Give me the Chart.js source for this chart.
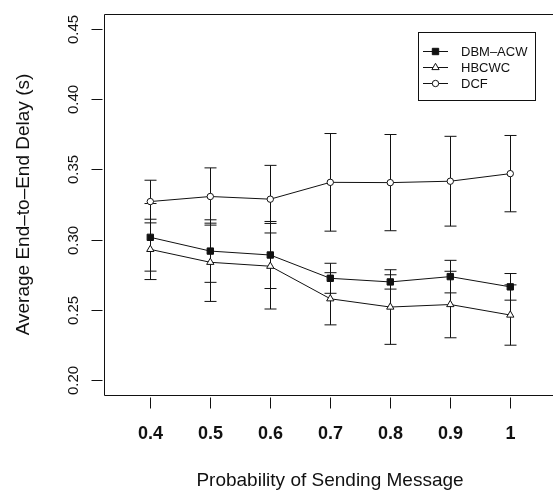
<!DOCTYPE html>
<html>
<head>
<meta charset="utf-8">
<script src="https://cdn.jsdelivr.net/npm/chart.js@4/dist/chart.umd.min.js"></script>
<style>
  html, body { margin: 0; padding: 0; background: #fff; }
  canvas { display: block; }
</style>
</head>
<body>
<canvas id="cntx_delay" width="553" height="494"></canvas>
<script>
// values
const probs = [0.4, 0.5, 0.6, 0.7, 0.8, 0.9, 1];
const xTickLabels = ["0.4", "0.5", "0.6", "0.7", "0.8", "0.9", "1"];
const yTicks = [0.20, 0.25, 0.30, 0.35, 0.40, 0.45];
const yTickLabels = ["0.20", "0.25", "0.30", "0.35", "0.40", "0.45"];

const dbmAcw = [0.3016, 0.2918, 0.2890, 0.2724, 0.2698, 0.2736, 0.2663];
const dbmAcwErr = [0.0241, 0.0223, 0.0239, 0.0107, 0.0051, 0.0116, 0.0095];
const hbcwc = [0.2930, 0.2838, 0.2810, 0.2578, 0.2519, 0.2537, 0.2462];
const hbcwcErr = [0.0215, 0.0279, 0.0305, 0.0186, 0.0266, 0.0237, 0.0215];
const dcf = [0.3271, 0.3307, 0.3288, 0.3408, 0.3406, 0.3416, 0.3470];
const dcfErr = [0.0152, 0.0204, 0.0241, 0.0348, 0.0343, 0.0320, 0.0272];

const seriesNames = ["DBM\u2013ACW", "HBCWC", "DCF"];
const xTitle = "Probability of Sending Message";
const yTitle = "Average End\u2013to\u2013End Delay (s)";

const FONT = "'Liberation Sans', Arial, Helvetica, sans-serif";
const INK = "#111";

toPoints = (xs, ys) => xs.map((x, i) => ({ x: x, y: ys[i] }));

makeSet = (label, values, errs, style, fill, radius) => ({
	label: label,
	data: toPoints(probs, values),
	errs: errs,
	borderColor: INK,
	borderWidth: 1,
	pointStyle: style,
	pointRadius: radius,
	pointHoverRadius: radius,
	pointBackgroundColor: fill,
	pointBorderColor: INK,
	pointBorderWidth: 1,
	tension: 0,
});

// error bars go under the markers
const errorBars = {
	id: "errorBars",
	beforeDatasetsDraw: (chart) => {
		const ctx = chart.ctx;
		const xs = chart.scales.x;
		const ys = chart.scales.y;
		ctx.save();
		ctx.strokeStyle = INK;
		ctx.lineWidth = 1;
		chart.data.datasets.forEach((ds) => {
			ds.data.forEach((p, i) => {
				const px = Math.round(xs.getPixelForValue(p.x)) + 0.5;
				const top = ys.getPixelForValue(p.y + ds.errs[i]);
				const bot = ys.getPixelForValue(p.y - ds.errs[i]);
				ctx.beginPath();
				ctx.moveTo(px, top);
				ctx.lineTo(px, bot);
				ctx.moveTo(px - 6, top);
				ctx.lineTo(px + 6, top);
				ctx.moveTo(px - 6, bot);
				ctx.lineTo(px + 6, bot);
				ctx.stroke();
			});
		});
		ctx.restore();
	},
};

drawMarker = (ctx, style, fill, x, y) => {
	ctx.beginPath();
	if (style === "rect") {
		ctx.rect(x - 3.2, y - 3.2, 6.4, 6.4);
	} else if (style === "triangle") {
		ctx.moveTo(x, y - 4.2);
		ctx.lineTo(x + 3.64, y + 2.1);
		ctx.lineTo(x - 3.64, y + 2.1);
		ctx.closePath();
	} else {
		ctx.arc(x, y, 3.2, 0, Math.PI * 2);
	}
	ctx.fillStyle = fill;
	ctx.fill();
	ctx.stroke();
};

// box, axes, titles and legend in the R style
const frame = {
	id: "frame",
	afterDraw: (chart) => {
		const ctx = chart.ctx;
		const a = chart.chartArea;
		const xs = chart.scales.x;
		const ys = chart.scales.y;
		ctx.save();
		ctx.strokeStyle = INK;
		ctx.lineWidth = 1;
		const L = Math.round(a.left) + 0.5;
		const T = Math.round(a.top) + 0.5;
		const B = Math.round(a.bottom) + 0.5;
		ctx.beginPath();
		ctx.moveTo(a.right, T);
		ctx.lineTo(L, T);
		ctx.lineTo(L, B);
		ctx.lineTo(a.right, B);
		ctx.stroke();

		// y ticks + rotated labels
		ctx.fillStyle = INK;
		ctx.font = "15px " + FONT;
		ctx.textAlign = "center";
		ctx.textBaseline = "middle";
		yTicks.forEach((v, i) => {
			const py = Math.round(ys.getPixelForValue(v)) + 0.5;
			ctx.beginPath();
			ctx.moveTo(L - 13, py);
			ctx.lineTo(L - 2, py);
			ctx.stroke();
			ctx.save();
			ctx.translate(73, py);
			ctx.rotate(-Math.PI / 2);
			ctx.fillText(yTickLabels[i], 0, 1);
			ctx.restore();
		});

		// x ticks + labels
		ctx.font = "bold 18px " + FONT;
		probs.forEach((v, i) => {
			const px = Math.round(xs.getPixelForValue(v)) + 0.5;
			ctx.beginPath();
			ctx.moveTo(px, B + 2);
			ctx.lineTo(px, B + 13);
			ctx.stroke();
			ctx.fillText(xTickLabels[i], px, 434);
		});

		// axis titles
		ctx.font = "19px " + FONT;
		ctx.fillText(xTitle, 330, 481);
		ctx.save();
		ctx.translate(24, (a.top + a.bottom) / 2);
		ctx.rotate(-Math.PI / 2);
		ctx.fillText(yTitle, 0, 0);
		ctx.restore();

		// legend
		ctx.strokeRect(418.5, 32.5, 117, 68);
		ctx.font = "13px " + FONT;
		ctx.textAlign = "left";
		const rows = [51.5, 67.5, 83.5];
		chart.data.datasets.forEach((ds, i) => {
			const y = rows[i];
			ctx.beginPath();
			ctx.moveTo(423, y);
			ctx.lineTo(448, y);
			ctx.stroke();
			drawMarker(ctx, ds.pointStyle, ds.pointBackgroundColor, 435.5, y);
			ctx.fillStyle = INK;
			ctx.fillText(ds.label, 461, y + 0.5);
		});
		ctx.restore();
	},
};

drawChart = (canvas) => {
	const myChart = new Chart(canvas, {
		type: "line",
		data: {
			datasets: [
				makeSet(seriesNames[0], dbmAcw, dbmAcwErr, "rect", INK, 4.5),
				makeSet(seriesNames[1], hbcwc, hbcwcErr, "triangle", "#fff", 4.2),
				makeSet(seriesNames[2], dcf, dcfErr, "circle", "#fff", 3.2),
			],
		},
		options: {
			responsive: false,
			animation: false,
			devicePixelRatio: 1,
			layout: {
				autoPadding: false,
				padding: { left: 103.5, top: 14, right: 0, bottom: 99 },
			},
			scales: {
				x: { type: "linear", min: 0.322, max: 1.0712, display: false },
				y: { type: "linear", min: 0.1892, max: 0.4608, display: false },
			},
			plugins: {
				legend: { display: false },
				tooltip: { enabled: false },
			},
		},
		plugins: [errorBars, frame],
	});
};
drawChart(document.querySelector("#cntx_delay"));
</script>
</body>
</html>
